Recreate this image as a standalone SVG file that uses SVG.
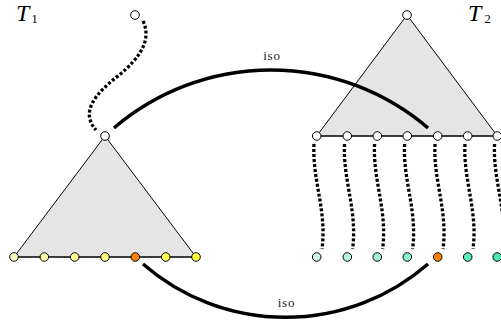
<svg xmlns="http://www.w3.org/2000/svg" width="501" height="325" viewBox="0 0 501 325">
<style>
.tri{fill:#e5e5e5;stroke:#000;stroke-width:1;stroke-linejoin:round}
.base{stroke:#000;stroke-width:1}
.nd{stroke:#000;stroke-width:1}
.w{fill:#fff}
.dot{fill:none;stroke:#000;stroke-width:3.3;stroke-dasharray:3 2}
.arc{fill:none;stroke:#000;stroke-width:3.5}
.T{font-family:"Liberation Serif",serif;font-style:italic;font-size:24px;fill:#000}
.sub{font-family:"Liberation Serif",serif;font-size:12.5px;fill:#000}
.iso{font-family:"Liberation Serif",serif;font-size:13px;letter-spacing:0.8px;fill:#222;text-anchor:middle}
</style>
<g id="labels">
<text class="T" x="16" y="21">T</text><text class="sub" x="31.5" y="23.3">1</text>
<text class="T" x="468" y="21">T</text><text class="sub" x="484.5" y="23.3">2</text>
</g>
<g id="tree1">
<polygon class="tri" points="105,136 14,257 196,257"/>
<line class="base" x1="14" y1="257" x2="196" y2="257"/>
</g>
<g id="tree2">
<polygon class="tri" points="407,15 316.7,136 497.3,136"/>
<line class="base" x1="316.7" y1="136" x2="497.3" y2="136"/>
</g>
<g id="connectors">
<path class="dot" d="M143,21 C152,40 140,58 118,76 C95,94 80,112 96,130"/>
<path class="dot" d="M314,144 C312,180 327,210 322,249"/>
<path class="dot" d="M344.6,144 C342.6,180 357.6,210 352.6,249"/>
<path class="dot" d="M374.6,144 C372.6,180 387.6,210 382.6,249"/>
<path class="dot" d="M404.6,144 C402.6,180 417.6,210 412.6,249"/>
<path class="dot" d="M435,144 C433,180 448,210 443,249"/>
<path class="dot" d="M465,144 C463,180 478,210 473,249"/>
<path class="dot" d="M494.6,144 C492.6,180 507.6,210 502.6,249"/>
<path class="arc" d="M114,128 A241.5,241.5 0 0 1 428,128"/>
<path class="arc" d="M143,264 A217,217 0 0 0 428,264"/>
<text class="iso" x="272" y="60">iso</text>
<text class="iso" x="286.5" y="307">iso</text>
</g>
<g id="t1-root"><circle class="nd w" cx="135" cy="15" r="4.3"/></g>
<g id="t1-apex"><circle class="nd w" cx="105" cy="136" r="4.3"/></g>
<g id="t1-leaves">
<circle class="nd" cx="14" cy="257" r="4.3" fill="#ffffc4"/>
<circle class="nd" cx="44.3" cy="257" r="4.3" fill="#ffffad"/>
<circle class="nd" cx="74.7" cy="257" r="4.3" fill="#ffff96"/>
<circle class="nd" cx="105" cy="257" r="4.3" fill="#ffff80"/>
<circle class="nd" cx="135.3" cy="257" r="4.3" fill="#ff8000"/>
<circle class="nd" cx="165.7" cy="257" r="4.3" fill="#ffff52"/>
<circle class="nd" cx="196" cy="257" r="4.3" fill="#ffff3a"/>
</g>
<g id="t2-apex"><circle class="nd w" cx="407" cy="15" r="4.3"/></g>
<g id="t2-base">
<circle class="nd w" cx="316.7" cy="136" r="4.3"/>
<circle class="nd w" cx="347.3" cy="136" r="4.3"/>
<circle class="nd w" cx="377.3" cy="136" r="4.3"/>
<circle class="nd w" cx="407.3" cy="136" r="4.3"/>
<circle class="nd w" cx="437.7" cy="136" r="4.3"/>
<circle class="nd w" cx="467.7" cy="136" r="4.3"/>
<circle class="nd w" cx="497.3" cy="136" r="4.3"/>
</g>
<g id="t2-leaves">
<circle class="nd" cx="316.7" cy="257" r="4.3" fill="#ccf7e8"/>
<circle class="nd" cx="347.3" cy="257" r="4.3" fill="#b5f5df"/>
<circle class="nd" cx="377.3" cy="257" r="4.3" fill="#9ef2d6"/>
<circle class="nd" cx="407.3" cy="257" r="4.3" fill="#88f0cd"/>
<circle class="nd" cx="437.7" cy="257" r="4.3" fill="#ff8000"/>
<circle class="nd" cx="467.7" cy="257" r="4.3" fill="#5cebbc"/>
<circle class="nd" cx="497.3" cy="257" r="4.3" fill="#46e9b3"/>
</g>
</svg>
